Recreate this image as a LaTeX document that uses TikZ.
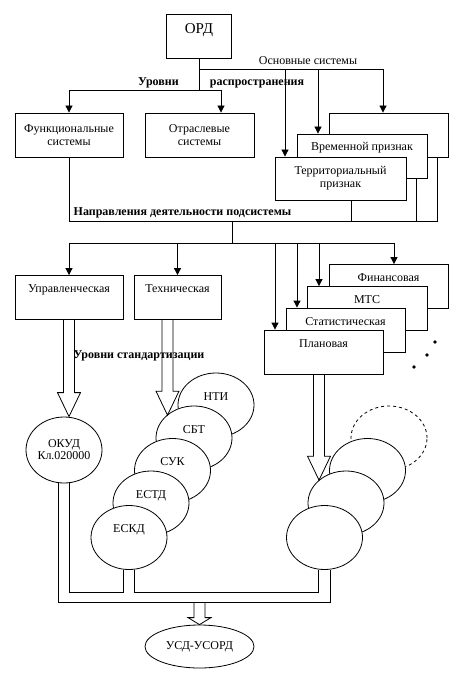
\documentclass[tikz,border=0pt]{standalone}
\usepackage{fontspec}
\setmainfont{Liberation Serif}
\usetikzlibrary{positioning,shapes.geometric,arrows.meta,calc}
\tikzset{%
  box/.style={draw,fill=white,inner xsep=2pt,inner ysep=0pt,minimum height=44pt,align=center,font=\fontsize{12}{13}\selectfont},
  tbox/.style={box,text height=17pt,text depth=27pt},
  disc/.style={draw,fill=white,ellipse,inner sep=0pt,minimum width=76pt,minimum height=64pt,align=center,font=\fontsize{12}{12}\selectfont},
  tdisc/.style={disc,text height=10pt,text depth=20pt},
  txt/.style={inner sep=0pt,anchor=base,font=\fontsize{12}{12}\selectfont},
  hdr/.style={txt,font=\fontsize{12}{12}\selectfont\bfseries},
  arr/.style={-{Triangle[length=7pt,width=7pt]}},
  hollow/.style={to path={let \p1=(\tikztostart),\p2=(\tikztotarget) in
    (\x1-5.5pt,\y1) -- (\x1-5.5pt,\y2+#1) -- (\x1-11.5pt,\y2+#1) -- (\x1,\y2)
    -- (\x1+11.5pt,\y2+#1) -- (\x1+5.5pt,\y2+#1) -- (\x1+5.5pt,\y1)}},
  hollow/.default=24pt
}

\begin{document}
\begin{tikzpicture}[x=1pt,y=-1pt,line width=.8pt]
  \useasboundingbox (0,0) rectangle (471,684);

  % levels of spreading
  \node[box,minimum width=65pt,text height=20pt,text depth=24pt,font=\fontsize{15}{15}\selectfont] (ord) at (199,36) {ОРД};
  \node[box,minimum width=108pt] (func) at (69,135) {Функциональные\\системы};
  \node[box,minimum width=109pt] (otr) at (199.5,135) {Отраслевые\\системы};
  \node[box,minimum width=119pt] (back) at (388.5,135) {};
  \node[tbox,minimum width=130pt] (vrem) at (362,156) {Временной признак};
  \node[box,minimum width=131pt,minimum height=43pt] (terr) at (340.5,178.5) {Территориальный\\признак};

  \node[txt] (osn) at (308,64.5) {Основные системы};
  \node[hdr] (urv) at (158.5,86) {Уровни};
  \node[hdr] (rasp) at (257,86) {распространения};
  \node[hdr] (napr) at (182.5,216) {Направления деятельности подсистемы};

  \coordinate (j1) at (199,90);
  \coordinate (j2) at (199,69);
  \coordinate (j3) at (232,221);
  \coordinate (j4) at (232,243);

  \draw (ord.south) -- (j1);
  \draw[arr] (j1) -| (func.north);
  \draw[arr] (j1) -| ([xshift=21.5pt]otr.north);
  \draw[arr] (j2) -| ([xshift=-55.5pt]terr.north);
  \draw[arr] (j2) -| ([xshift=-44pt]vrem.north);
  \draw[arr] (j2) -| ([xshift=-5.5pt]back.north);

  \draw (func.south) |- ([xshift=49pt]j3 -| back.south) -- ([xshift=49pt]back.south);
  \draw ([xshift=11pt]terr.south) -- ([xshift=11pt]j3 -| terr.south);
  \draw ([xshift=54pt]vrem.south) -- ([xshift=54pt]j3 -| vrem.south);
  \draw (j3) -- (j4);

  % subsystems
  \node[tbox,minimum width=108pt] (upr) at (69,297.5) {Управленческая};
  \node[tbox,minimum width=87pt] (tech) at (177.5,297.5) {Техническая};
  \node[tbox,minimum width=119pt] (fin) at (388.5,286.5) {Финансовая};
  \node[tbox,minimum width=120pt] (mts) at (367,308.5) {МТС};
  \node[tbox,minimum width=119pt] (stat) at (345.5,330) {Статистическая};
  \node[tbox,minimum width=119pt] (plan) at (323.5,352) {Плановая};

  \draw[arr] (j4) -| (upr.north);
  \draw[arr] (j4) -| (tech.north);
  \draw[arr] (j4) -| ([xshift=-48.5pt]plan.north);
  \draw[arr] (j4) -| ([xshift=-48.5pt]stat.north);
  \draw[arr] (j4) -| ([xshift=-48pt]mts.north);
  \draw[arr] (j4) -| ([xshift=5.5pt]fin.north);

  \fill (435,342) circle (1.8pt) (427,355) circle (1.8pt) (414,367) circle (1.8pt);

  \node[hdr] (std) at (139,358) {Уровни стандартизации};

  % levels of standardisation
  \node[disc,minimum height=66pt] (okud) at (64,450) {ОКУД\\Кл.020000};
  \node[tdisc] (nti) at (216,405) {НТИ};
  \node[tdisc] (sbt) at (194,438) {СБТ};
  \node[tdisc] (suk) at (172.5,470.5) {СУК};
  \node[tdisc] (estd) at (151,503) {ЕСТД};
  \node[tdisc] (eskd) at (129,537.5) {ЕСКД};
  \node[disc,dashed] (r4) at (389,438) {};
  \node[disc] (r3) at (367.5,470.5) {};
  \node[disc] (r2) at (346,503) {};
  \node[disc] (r1) at (324.5,537.5) {};
  \node[disc,minimum width=109pt,minimum height=43pt] (usd) at (199.5,646.5) {УСД-УСОРД};

  \draw[hollow] (upr.south) to (okud.north);
  \draw[hollow] ([xshift=-10pt]tech.south) to (sbt.140);
  \draw[hollow] ([xshift=-4.5pt]plan.south) to (r2.140);

  \coordinate (pin) at (0,592);
  \coordinate (pout) at (0,602);
  \draw ([xshift=5.5pt]okud.south) |- ([xshift=-5.5pt]pin -| eskd.south) -- ([xshift=-5.5pt]eskd.south);
  \draw ([xshift=5.5pt]eskd.south) |- ([xshift=-6pt]pin -| r1.south) -- ([xshift=-6pt]r1.south);
  \draw ([xshift=-5.5pt]okud.south) |- ([xshift=5.5pt]pout -| r1.south) -- ([xshift=5.5pt]r1.south);
  \draw[hollow=7pt] (pout -| usd.north) to (usd.north);
\end{tikzpicture}
\end{document}
